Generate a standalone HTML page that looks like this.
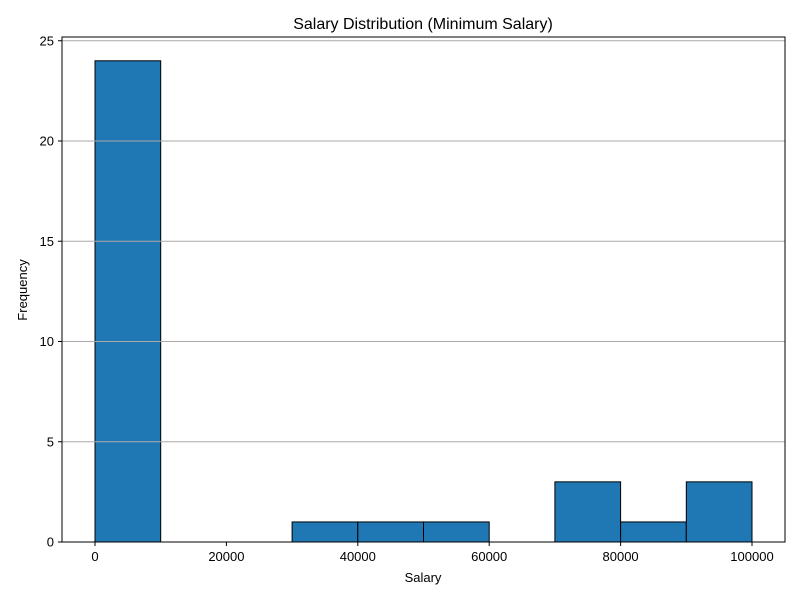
<!DOCTYPE html>
<html><head><meta charset="utf-8"><style>
body{margin:0;background:#fff;font-family:"Liberation Sans","DejaVu Sans",sans-serif;}
</style></head><body>
<svg id="chart" width="800" height="600" xmlns="http://www.w3.org/2000/svg">
<rect width="800" height="600" fill="#fff"/>
<g id="bars"></g><g id="grid"></g><g id="axes"></g>
<text x="423" y="29" text-anchor="middle" font-size="16">Salary Distribution (Minimum Salary)</text>
<text x="423" y="582" text-anchor="middle" font-size="13">Salary</text>
<text x="27" y="290" text-anchor="middle" font-size="13" transform="rotate(-90 27 290)">Frequency</text>
</svg>
<script>
const binStarts=[0,10000,20000,30000,40000,50000,60000,70000,80000,90000];
const binWidth=10000;
const counts=[24,0,0,1,1,1,0,3,1,3];
const xTicks=[0,20000,40000,60000,80000,100000];
const yTicks=[0,5,10,15,20,25];
const L=62,R=785,T=37,B=542;
const x=v=>95+v*(752-95)/100000;
const y=v=>B-v*(B-141)/20;
const NS="http://www.w3.org/2000/svg";
function mk(p,t,a){const e=document.createElementNS(NS,t);for(const k in a)e.setAttribute(k,a[k]);p.appendChild(e);return e;}
const g=document.getElementById('grid'),b=document.getElementById('bars'),ax=document.getElementById('axes');
yTicks.forEach(v=>{
  const gl=mk(g,'line',{x1:L,x2:R,y1:y(v),y2:y(v),stroke:'#aaaaaa','stroke-width':1});
  
  
  mk(ax,'line',{x1:L-4,x2:L,y1:y(v),y2:y(v),stroke:'#000'});
  const t=mk(ax,'text',{x:L-8,y:y(v)+4.5,'text-anchor':'end','font-size':13});t.textContent=v;
  
  
});
binStarts.forEach((s,i)=>{
  const r=mk(b,'rect',{x:x(s),y:y(counts[i]),width:x(s+binWidth)-x(s),height:y(0)-y(counts[i]),fill:'#1f77b4',stroke:'#000','stroke-width':1});
  
  
});
xTicks.forEach(v=>{
  mk(ax,'line',{x1:x(v),x2:x(v),y1:B,y2:B+4,stroke:'#000'});
  const t=mk(ax,'text',{x:x(v),y:B+19,'text-anchor':'middle','font-size':13});t.textContent=v;
  
  
});
const f=mk(ax,'rect',{x:L,y:T,width:R-L,height:B-T,fill:'none',stroke:'#000','stroke-width':1});


</script>
</body></html>
